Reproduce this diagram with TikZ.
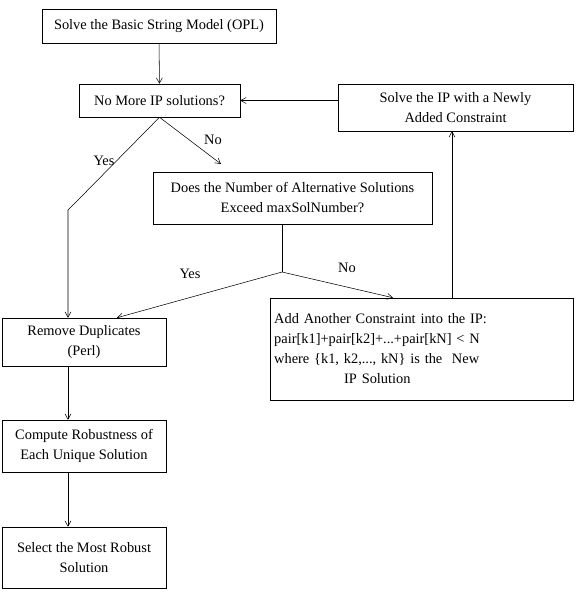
\documentclass[tikz,border=0pt]{standalone}
\usepackage{fontspec}
\setmainfont{Liberation Serif}
\usetikzlibrary{arrows.meta,calc}

\begin{document}
\begin{tikzpicture}[x=0.75pt,y=-0.75pt,
  box/.style={draw,thin,align=center,inner sep=2pt,font=\fontsize{10.8}{15}\selectfont},
  lbl/.style={font=\fontsize{10.8}{15}\selectfont},
  >={Straight Barb[length=4pt,width=4.5pt]}]
\useasboundingbox (0,0) rectangle (579,600);
% boxes
\node[box,minimum width=175.5pt,minimum height=25.5pt] (basic) at (159,26) {Solve the Basic String Model (OPL)};
\node[box,minimum width=120.75pt,minimum height=24.75pt] (nomore) at (159.5,100.5) {No More IP solutions?};
\node[box,minimum width=176.25pt,minimum height=35.25pt] (solveip) at (455.5,107.5) {Solve the IP with a Newly\\Added Constraint};
\node[box,minimum width=209.25pt,minimum height=39pt] (exceed) at (292.5,198) {Does the Number of Alternative Solutions\\Exceed maxSolNumber?};
\node[box,minimum width=123pt,minimum height=36pt] (dup) at (84,342) {Remove Duplicates\\(Perl)};
\node[box,align=left,text width=221pt,inner xsep=3pt,minimum height=76.5pt] (addcon) at (421.5,349) {Add Another Constraint into the IP:\\pair[k1]+pair[k2]+...+pair[kN] < N\\where \{k1, k2,..., kN\} is the~ New\\\hspace*{52.5pt}IP Solution};
\node[box,minimum width=123pt,minimum height=39pt] (robust) at (84,446) {Compute Robustness of\\Each Unique Solution};
\node[box,minimum width=123pt,minimum height=45.75pt] (select) at (84,557.5) {Select the Most Robust\\Solution};
% branch points
\coordinate (noend) at (221,164);
\coordinate (split) at (282,272);
% labels
\node[lbl] (yes1) at (104,161) {Yes};
\node[lbl] (no1) at (213,140) {No};
\node[lbl] (yes2) at (190,274) {Yes};
\node[lbl] (no2) at (347,268) {No};
% connectors
\draw[->] (basic) -- (nomore);
\draw[->] (solveip.west |- nomore.east) -- (nomore.east);
\draw[->] (nomore.south) -- (noend);
\draw[->] (nomore.south) -- (78,200) -- (68,210) -- ($(dup.north)+(-16,0)$);
\draw (split |- exceed.south) -- (split);
\draw[->] (split) -- ($(dup.north)+(33,0)$);
\draw[->] (split) -- ($(addcon.north)+(-28.5,0)$);
\draw[->] ($(addcon.north)+(30.5,0)$) -- ($(solveip.south)+(-3.5,0)$);
\draw[->] ($(dup.south)+(-16,0)$) -- ($(robust.north)+(-16,0)$);
\draw[->] ($(robust.south)+(-16,0)$) -- ($(select.north)+(-16,0)$);
\end{tikzpicture}
\end{document}
